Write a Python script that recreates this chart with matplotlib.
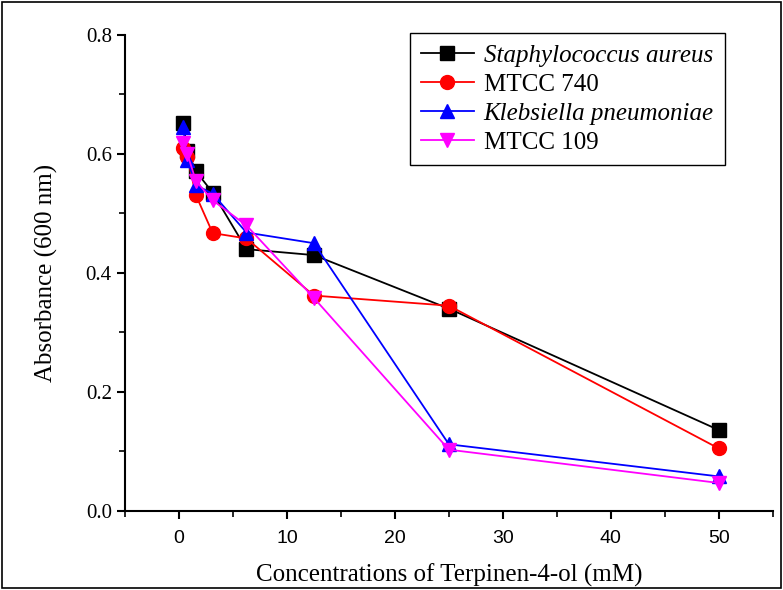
import matplotlib
matplotlib.use("Agg")
import matplotlib.pyplot as plt
from matplotlib.ticker import MultipleLocator
from matplotlib.patches import Rectangle

conc = [0.39, 0.78, 1.5625, 3.125, 6.25, 12.5, 25, 50]
staph = [0.652, 0.605, 0.571, 0.535, 0.440, 0.430, 0.340, 0.136]
mtcc740 = [0.610, 0.595, 0.531, 0.467, 0.458, 0.362, 0.345, 0.105]
kleb = [0.645, 0.590, 0.548, 0.533, 0.468, 0.450, 0.112, 0.058]
mtcc109 = [0.618, 0.600, 0.555, 0.522, 0.480, 0.358, 0.103, 0.047]

labels = ["Staphylococcus aureus", "MTCC 740", "Klebsiella pneumoniae", "MTCC 109"]
italic = [True, False, True, False]
series = [staph, mtcc740, kleb, mtcc109]
colors = ["black", "red", "blue", "magenta"]
markers = ["s", "o", "^", "v"]

xticks = [0, 10, 20, 30, 40, 50]
yticks = [0.0, 0.2, 0.4, 0.6, 0.8]

serif = ["Liberation Serif", "DejaVu Serif"]

fig = plt.figure(figsize=(7.83, 5.90), dpi=100)
ax = fig.add_axes([0.1596, 0.134, 0.8274, 0.8067])

for y, c, m, lab in zip(series, colors, markers, labels):
    ax.plot(conc, y, color=c, marker=m, markersize=10, linewidth=1.3, label=lab)

ax.set_xlim(-5, 55)
ax.set_ylim(0, 0.8)
ax.xaxis.set_minor_locator(MultipleLocator(5))
ax.yaxis.set_minor_locator(MultipleLocator(0.1))
ax.spines["top"].set_visible(False)
ax.spines["right"].set_visible(False)
ax.spines["left"].set_linewidth(1.5)
ax.spines["bottom"].set_linewidth(1.5)
ax.tick_params(which="major", direction="out", length=6, width=1.5)
ax.tick_params(which="minor", direction="out", length=4, width=1.2)

ax.set_yticks(yticks)
ax.set_yticklabels([f"{v:.1f}" for v in yticks], fontfamily=serif, fontsize=15)
ax.set_xticks(xticks)
ax.set_xticklabels([str(v) for v in xticks],
                   fontfamily=["Liberation Sans Narrow", "Liberation Sans", "DejaVu Sans"], fontsize=14)
ax.tick_params(axis="x", pad=8)

ax.set_xlabel("Concentrations of Terpinen-4-ol (mM)", fontfamily=serif, fontsize=18, labelpad=12)
ax.set_ylabel("Absorbance (600 nm)", fontfamily=serif, fontsize=18, labelpad=20)

leg = ax.legend(loc="upper right", bbox_to_anchor=(0.926, 1.004), frameon=True, fancybox=False,
                edgecolor="black", framealpha=1, handlelength=2.1, borderpad=0.45,
                labelspacing=0.26, handletextpad=0.4, borderaxespad=0,
                prop={"family": serif, "size": 18})
leg.get_frame().set_linewidth(1.0)
for t, it in zip(leg.get_texts(), italic):
    if it:
        t.set_fontstyle("italic")

fig.patches.append(Rectangle((0.003, 0.003), 0.994, 0.994, transform=fig.transFigure,
                             fill=False, edgecolor="black", linewidth=1.2))

fig.savefig("out.png", dpi=100)
